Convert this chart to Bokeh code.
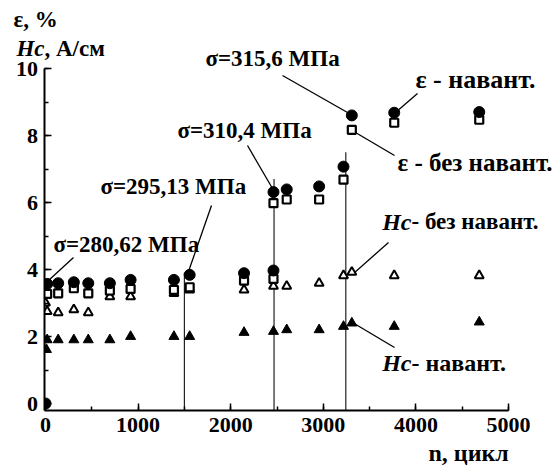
from bokeh.plotting import figure
from bokeh.models import Range1d, Label, FixedTicker
from bokeh.embed import file_html
from bokeh.resources import INLINE

# ---- data ----
eps_load_x = [0, 18, 137, 306, 462, 695, 919, 1387, 1557, 2144, 2462, 2462, 2605, 2955, 3218, 3308, 3766, 4684]
eps_load_y = [0, 3.57, 3.59, 3.62, 3.59, 3.59, 3.69, 3.69, 3.84, 3.89, 3.97, 6.31, 6.39, 6.48, 7.07, 8.60, 8.68, 8.70]

eps_free_x = [18, 137, 306, 462, 695, 919, 1387, 1557, 2144, 2462, 2462, 2605, 2955, 3218, 3308, 3766, 4684]
eps_free_y = [3.27, 3.29, 3.44, 3.29, 3.37, 3.42, 3.39, 3.47, 3.67, 3.72, 5.98, 6.09, 6.09, 6.68, 8.17, 8.38, 8.47]

hc_free_x = [0, 18, 137, 306, 462, 695, 919, 1387, 1557, 2144, 2462, 2605, 2955, 3218, 3308, 3766, 4684]
hc_free_y = [3.00, 2.75, 2.71, 2.80, 2.71, 3.19, 3.19, 3.29, 3.39, 3.39, 3.50, 3.50, 3.59, 3.82, 3.92, 3.82, 3.82]

hc_load_x = [10, 18, 137, 306, 462, 695, 919, 1387, 1557, 2144, 2462, 2605, 2955, 3218, 3308, 3766, 4684]
hc_load_y = [1.61, 1.90, 1.90, 1.90, 1.90, 1.90, 2.00, 2.00, 2.00, 2.12, 2.15, 2.20, 2.20, 2.30, 2.40, 2.30, 2.43]

# stress-marker vertical lines
vline_x = [1500, 2468, 3243]
vline_top = [3.9, 6.7, 7.5]

stress_labels = ["σ=280,62 МПа", "σ=295,13 МПа", "σ=310,4 МПа", "σ=315,6 МПа"]

x_ticks = [0, 1000, 2000, 3000, 4000, 5000]
x_minor = list(range(0, 5001, 500))
y_ticks = [0, 2, 4, 6, 8, 10]
y_minor = list(range(0, 11, 1))

# ---- layout: the frame covers the whole canvas; axes drawn at fixed locations ----
W, H = 555, 468
X0_PX, X1_PX = 45.0, 508.0      # pixel of x=0 and x=5000
Y0_PX, Y10_PX = 403.0, 68.0     # pixel of y=0 and y=10
sx = (X1_PX - X0_PX) / 5000.0
sy = (Y0_PX - Y10_PX) / 10.0


def px2x(px):
    return (px - X0_PX) / sx


def px2y(py):
    return (Y0_PX - py) / sy


Y_BOTTOM = -0.2
X_LEFT = px2x(43.5)

FONT = "Liberation Serif"

p = figure(width=W, height=H,
           x_range=Range1d(px2x(0), px2x(W)), y_range=Range1d(px2y(H), px2y(0)),
           output_backend="svg", toolbar_location=None,
           min_border_left=0, min_border_right=0, min_border_top=0, min_border_bottom=0)
p.outline_line_color = None
p.xgrid.grid_line_color = None
p.ygrid.grid_line_color = None
p.background_fill_color = "white"
p.border_fill_color = "white"

xa = p.xaxis[0]
ya = p.yaxis[0]
xa.fixed_location = Y_BOTTOM
ya.fixed_location = X_LEFT
xa.bounds = (X_LEFT, 5000)
ya.bounds = (Y_BOTTOM, 10)

for ax in (xa, ya):
    ax.axis_line_width = 2
    ax.axis_line_color = "black"
    ax.major_tick_in = 7
    ax.major_tick_out = 0
    ax.minor_tick_in = 4
    ax.minor_tick_out = 0
    ax.major_tick_line_width = 1.5
    ax.minor_tick_line_width = 1.5
    ax.major_label_text_font = FONT
    ax.major_label_text_font_style = "bold"
    ax.major_label_text_font_size = "22px"
    ax.major_label_text_color = "black"

xa.ticker = FixedTicker(ticks=x_ticks, minor_ticks=x_minor)
ya.ticker = FixedTicker(ticks=y_ticks, minor_ticks=y_minor)
xa.major_label_standoff = 8
ya.major_label_standoff = 6

# vertical lines
p.segment(x0=vline_x, y0=[Y_BOTTOM] * len(vline_x), x1=vline_x, y1=vline_top,
          line_color="#222222", line_width=1.2)

# leader lines (annotation layout, pixel positions)
lead_px = [
    ((73, 257), (48, 280)),
    ((211, 205), (188, 271)),
    ((247, 145), (272, 188)),
    ((282, 75), (347, 112)),
    ((417, 93), (395, 112)),
    ((355, 132), (394, 155)),
    ((388, 242), (353, 273)),
    ((352, 322), (394, 347)),
]
p.segment(x0=[px2x(a[0]) for a, b in lead_px], y0=[px2y(a[1]) for a, b in lead_px],
          x1=[px2x(b[0]) for a, b in lead_px], y1=[px2y(b[1]) for a, b in lead_px],
          line_color="black", line_width=1.3)

# data markers
p.scatter(hc_load_x, hc_load_y, marker="triangle", size=10, fill_color="black", line_color="black")
p.scatter(hc_free_x, hc_free_y, marker="triangle", size=9, fill_color="white", line_color="black", line_width=2)
p.scatter(eps_free_x, eps_free_y, marker="square", size=8, fill_color="white", line_color="black", line_width=2.2)
p.scatter(eps_load_x, eps_load_y, marker="circle", size=11, fill_color="black", line_color="black")

# mask left of the y axis (markers are clipped at the axis as in the original)
p.quad(left=[px2x(0)], right=[X_LEFT], bottom=[px2y(H)], top=[px2y(0)],
       fill_color="white", line_color=None)


def lab(px, py, text, style="bold", size="22px", align="left"):
    p.add_layout(Label(x=px2x(px), y=px2y(py), text=text, text_font=FONT, text_font_style=style,
                       text_font_size=size, text_color="black", text_align=align,
                       text_baseline="middle"))


lab(53, 244, stress_labels[0], size="23px")
lab(100, 186, stress_labels[1], size="23px")
lab(177, 130, stress_labels[2], size="23px")
lab(205, 58, stress_labels[3], size="23px")

lab(415, 79, "ε - навант.", size="26px")
lab(397, 162, "ε - без навант.", size="25px")
lab(411, 221, "Hc", style="bold italic", size="24px", align="right")
lab(411, 221, "- без навант.", size="23px")
lab(411, 362, "Hc", style="bold italic", size="24px", align="right")
lab(411, 362, "- навант.", size="24px")

# axis titles
lab(13, 19, "ε, %", size="23px")
lab(44, 48, "Hc", style="bold italic", size="23px", align="right")
lab(44, 48, ", А/см", size="23px")
lab(428, 452, "n, цикл", size="24px")

open("out.html", "w").write(file_html(p, INLINE))
